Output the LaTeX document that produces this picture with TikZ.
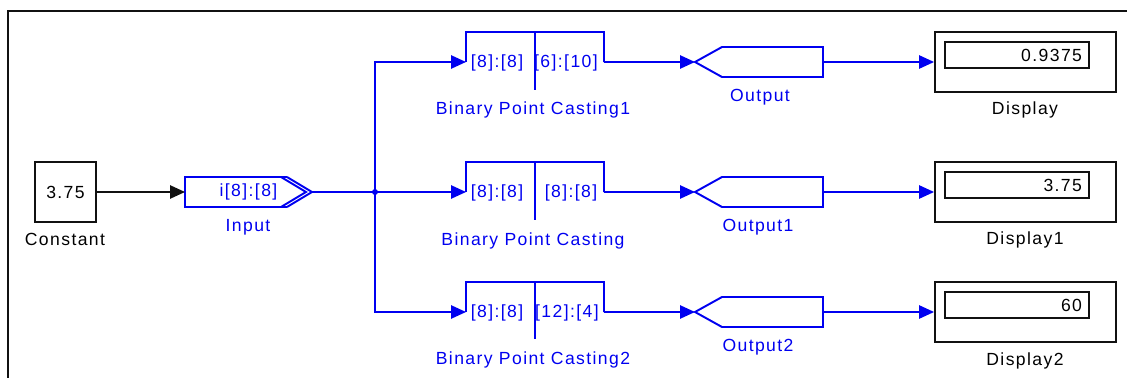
\documentclass[tikz,border=0pt]{standalone}
\usepackage{fontspec}
\setmainfont[LetterSpace=8]{Liberation Sans}
\usetikzlibrary{
  positioning,
  arrows.meta,
  calc,
}
\definecolor{simBlue}{HTML}{0000F0}
\definecolor{simBlack}{HTML}{111111}
\tikzset{
  blk/.style={
    rectangle, draw=simBlack, line width=1.1pt, inner sep=0pt,
    font=\fontsize{10}{12}\selectfont,
  },
  shapebox/.style={rectangle, inner sep=0pt, outer sep=0pt},
  valbox/.style={
    blk, inner xsep=4pt, text width=2.88cm-8pt, align=right,
    minimum height=0.52cm,
  },
  wire/.style={simBlue, line width=1.1pt},
  sig/.style={wire, -{Triangle[length=8.5pt,width=7.5pt]}},
  blacksig/.style={sig, simBlack},
  txt/.style={font=\fontsize{10}{12}\selectfont, inner sep=0pt, anchor=base},
  bluetxt/.style={txt, text=simBlue},
}

\begin{document}
\begin{tikzpicture}[x=0.02cm, y=-0.02cm]
  \useasboundingbox (0,0) rectangle (1127,378);

  % Frame
  \draw[simBlack, line width=1.7pt] (8,378) -- (8,11) -- (1127,11);

  % Source and gateway in
  \node[blk, minimum width=1.22cm, minimum height=1.2cm] (const) at (65.5,192) {3.75};
  \node[txt] (constlbl) at (65,246) {Constant};
  \node[shapebox, font=\fontsize{10}{12}\selectfont, text=simBlue, minimum width=2.54cm, minimum height=0.6cm] (inp) at (248.5,192) {i[8]:[8]};
  \node[bluetxt] (inplbl) at (248,232) {Input};
  \draw[wire] ($(inp.north east)+(-25,0)$) -- (inp.north west) -- (inp.south west) -- ($(inp.south east)+(-25,0)$);
  \draw[wire] ($(inp.north east)+(-25,0)$) -- (inp.east) -- ($(inp.south east)+(-25,0)$);
  \draw[wire] ($(inp.north east)+(-31,0)$) -- ($(inp.east)+(-6,0)$) -- ($(inp.south east)+(-31,0)$);
  \coordinate (junc) at (375,192);

  % Binary point casting blocks
  \node[shapebox, minimum width=2.76cm, minimum height=0.6cm] (cast1) at (535,47) {};
  \node[shapebox, minimum width=2.76cm, minimum height=0.6cm] (cast2) at (535,177) {};
  \node[shapebox, minimum width=2.76cm, minimum height=0.6cm] (cast3) at (535,297) {};
  \draw[wire] (cast1.south west) -- (cast1.north west) -- (cast1.north east) -- (cast1.south east);
  \draw[wire] (cast2.south west) -- (cast2.north west) -- (cast2.north east) -- (cast2.south east);
  \draw[wire] (cast3.south west) -- (cast3.north west) -- (cast3.north east) -- (cast3.south east);
  \draw[wire] (cast1.north) -- ++(0,58);
  \draw[wire] (cast2.north) -- ++(0,58);
  \draw[wire] (cast3.north) -- ++(0,57);
  \node[bluetxt] (cin1) at (497,68) {[8]:[8]};
  \node[bluetxt] (cout1) at (566,68) {[6]:[10]};
  \node[bluetxt] (cin2) at (497,198) {[8]:[8]};
  \node[bluetxt] (cout2) at (571,198) {[8]:[8]};
  \node[bluetxt] (cin3) at (497,318) {[8]:[8]};
  \node[bluetxt] (cout3) at (567,318) {[12]:[4]};
  \node[bluetxt] (castlbl1) at (533,115) {Binary Point Casting1};
  \node[bluetxt] (castlbl2) at (533,246) {Binary Point Casting};
  \node[bluetxt] (castlbl3) at (533,365) {Binary Point Casting2};

  % Gateway out blocks
  \node[shapebox, minimum width=2.56cm, minimum height=0.6cm] (out1) at (759,62) {};
  \node[shapebox, minimum width=2.56cm, minimum height=0.6cm] (out2) at (759,192) {};
  \node[shapebox, minimum width=2.56cm, minimum height=0.6cm] (out3) at (759,312) {};
  \draw[wire] (out1.west) -- ($(out1.north west)+(27,0)$) -- (out1.north east) -- (out1.south east) -- ($(out1.south west)+(27,0)$) -- cycle;
  \draw[wire] (out2.west) -- ($(out2.north west)+(27,0)$) -- (out2.north east) -- (out2.south east) -- ($(out2.south west)+(27,0)$) -- cycle;
  \draw[wire] (out3.west) -- ($(out3.north west)+(27,0)$) -- (out3.north east) -- (out3.south east) -- ($(out3.south west)+(27,0)$) -- cycle;
  \node[bluetxt] (outlbl1) at (760,102) {Output};
  \node[bluetxt] (outlbl2) at (758,232) {Output1};
  \node[bluetxt] (outlbl3) at (758,352) {Output2};

  % Displays
  \node[blk, minimum width=3.62cm, minimum height=1.2cm] (disp1) at (1025.5,62) {};
  \node[blk, minimum width=3.62cm, minimum height=1.2cm] (disp2) at (1025.5,192) {};
  \node[blk, minimum width=3.62cm, minimum height=1.2cm] (disp3) at (1025.5,312) {};
  \node[valbox] (val1) at (1017,55) {0.9375};
  \node[valbox] (val2) at (1017,185) {3.75};
  \node[valbox] (val3) at (1017,305) {60};
  \node[txt] (displbl1) at (1025,115) {Display};
  \node[txt] (displbl2) at (1025,245) {Display1};
  \node[txt] (displbl3) at (1025,366) {Display2};

  % Signals
  \draw[blacksig] (const) -- (inp);
  \draw[wire] (inp.east) -- (junc);
  \fill[simBlue] (junc) circle (1.7pt);
  \draw[sig] (junc) |- (cast1.south west);
  \draw[sig] (junc) -- (cast2.south west);
  \draw[sig] (junc) |- (cast3.south west);
  \draw[sig] (cast1.south east) -- (out1.west);
  \draw[sig] (cast2.south east) -- (out2.west);
  \draw[sig] (cast3.south east) -- (out3.west);
  \draw[sig] (out1.east) -- (disp1);
  \draw[sig] (out2.east) -- (disp2);
  \draw[sig] (out3.east) -- (disp3);

\end{tikzpicture}
\end{document}
